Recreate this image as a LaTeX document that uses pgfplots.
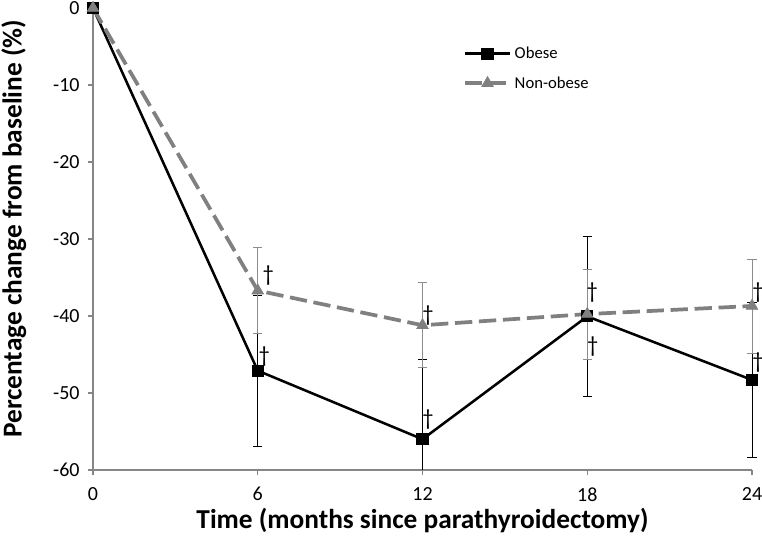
\documentclass[border=0pt]{standalone}
\usepackage{fontspec}
\setmainfont{Carlito}
\usepackage{pgfplots}
\pgfplotsset{compat=1.18}
\definecolor{nogray}{RGB}{128,128,128}
\definecolor{axgray}{RGB}{134,134,134}
\definecolor{ebgray}{RGB}{140,140,140}
\begin{document}
\begin{tikzpicture}
\begin{axis}[name=ax, scale only axis, width=494.25pt, height=346.5pt,
  xmin=0, xmax=24, ymin=-60, ymax=0,
  axis lines*=left,
  xtick={0,6,12,18,24}, ytick={-60,-50,-40,-30,-20,-10,0},
  tick align=outside, major tick length=4pt,
  axis line style={axgray, line width=0.8pt},
  tick style={axgray, line width=0.8pt},
  /pgf/number format/assume math mode=true,
  tick label style={font=\fontsize{15}{17}\selectfont, black},
  xticklabel style={yshift=-5.5pt},
  yticklabel style={xshift=-2.5pt},
  xlabel={\textbf{Time (months since parathyroidectomy)}},
  ylabel={\textbf{Percentage change from baseline (\%)}},
  xlabel style={font=\fontsize{20.5}{22}\selectfont, at={(axis description cs:0.5,-0.1097)}, anchor=center},
  ylabel style={font=\fontsize{20.5}{22}\selectfont, at={(axis description cs:-0.12,0.522)}, anchor=center},
  clip=false,
  legend style={at={(axis description cs:0.555,0.928)}, anchor=north west, draw=none, fill=none,
    font=\fontsize{12.5}{14}\selectfont, row sep=8pt},
  legend cell align=left,
  legend image code/.code={\draw[mark repeat=2,mark phase=2,#1] plot coordinates {(0pt,0pt) (17pt,0pt) (34pt,0pt)};},
]
% error bars (drawn behind the lines)
\addplot[forget plot, draw=none, mark=none,
  error bars/.cd, y dir=both, y explicit,
  error bar style={black, line width=0.6pt},
  error mark options={rotate=90, black, mark size=3.5pt, line width=0.6pt}]
  coordinates {(6,-47.1) +- (0,9.8) (18,-40.05) +- (0,10.35) (24,-48.3) +- (0,10.1)};
\addplot[forget plot, draw=none, mark=none,
  error bars/.cd, y dir=plus, y explicit,
  error bar style={black, line width=0.6pt},
  error mark options={rotate=90, black, mark size=3.5pt, line width=0.6pt}]
  coordinates {(12,-56.0) +- (0,10.3)};
\addplot[forget plot, black, line width=0.6pt, mark=none] coordinates {(12,-56.0) (12,-60)};
\addplot[forget plot, draw=none, mark=none,
  error bars/.cd, y dir=both, y explicit,
  error bar style={ebgray, line width=0.6pt},
  error mark options={rotate=90, ebgray, mark size=3.5pt, line width=0.6pt}]
  coordinates {(6,-36.7) +- (0,5.6) (12,-41.2) +- (0,5.5) (18,-39.75) +- (0,5.85) (24,-38.7) +- (0,6.1)};
% series
\addplot[black, line width=1.9pt, mark=square*, mark size=3.6pt, mark options={solid, black}]
  coordinates {(0,0) (6,-47.1) (12,-56.0) (18,-40.05) (24,-48.3)};
\addlegendentry{Obese}
\addplot[nogray, line width=2.8pt, dash pattern=on 13pt off 5pt, mark=triangle*, mark size=5pt, mark options={solid, nogray, line width=0.5pt}]
  coordinates {(0,0) (6,-36.7) (12,-41.2) (18,-39.75) (24,-38.7)};
\addlegendentry{Non-obese}
% significance daggers
\node[font=\fontsize{17}{18}\selectfont] at (axis cs:6.38,-34.8) {†};
\node[font=\fontsize{17}{18}\selectfont] at (axis cs:6.24,-45.3) {†};
\node[font=\fontsize{17}{18}\selectfont] at (axis cs:12.2,-39.9) {†};
\node[font=\fontsize{17}{18}\selectfont] at (axis cs:12.2,-53.5) {†};
\node[font=\fontsize{17}{18}\selectfont] at (axis cs:18.18,-37.0) {†};
\node[font=\fontsize{17}{18}\selectfont] at (axis cs:18.2,-44.0) {†};
\node[font=\fontsize{17}{18}\selectfont] at (axis cs:24.22,-36.9) {†};
\node[font=\fontsize{17}{18}\selectfont] at (axis cs:24.22,-46.1) {†};
\end{axis}
\pgfresetboundingbox
\path[use as bounding box] ([xshift=-69.75pt,yshift=-51.75pt]ax.south west) rectangle ([xshift=7.5pt,yshift=6pt]ax.north east);
\end{tikzpicture}
\end{document}
